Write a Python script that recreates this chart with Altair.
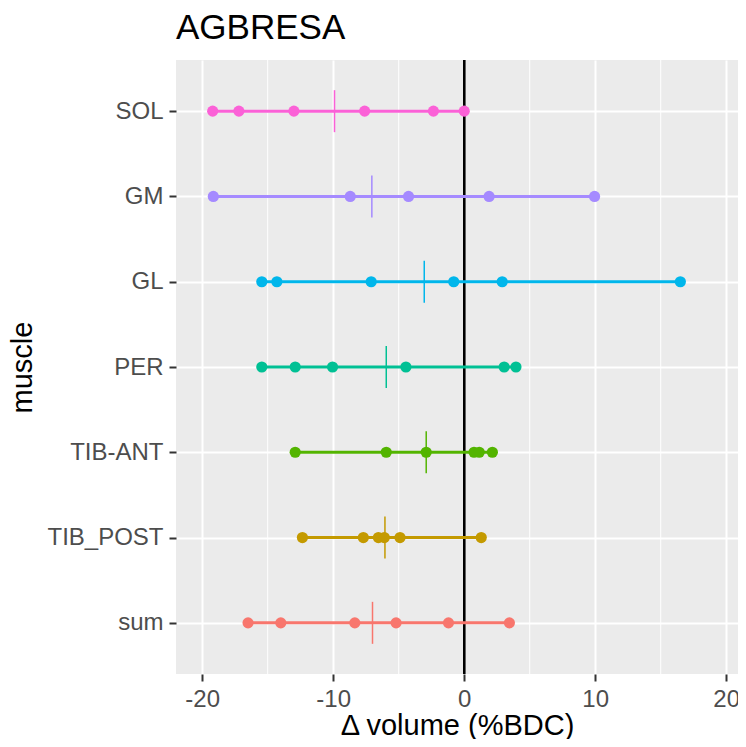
import altair as alt
import pandas as pd

# ---- data ----
muscles = ["SOL", "GM", "GL", "PER", "TIB-ANT", "TIB_POST", "sum"]
sol = [-19.2, -17.2, -13.0, -7.6, -2.35, 0.0]
gm = [-19.15, -8.7, -4.25, 1.9, 9.95]
gl = [-15.45, -14.3, -7.1, -0.8, 2.9, 16.5]
per = [-15.45, -12.9, -10.05, -4.45, 3.05, 3.95]
tib_ant = [-12.9, -5.95, -2.9, 0.75, 1.15, 2.15]
tib_post = [-12.35, -7.7, -6.55, -6.1, -4.9, 1.3]
total = [-16.5, -14.0, -8.35, -5.2, -1.2, 3.45]
means = [-9.9, -7.05, -3.05, -5.95, -2.9, -6.05, -7.0]
colors = ["#FB61D7", "#A58AFF", "#00B6EB", "#00C094", "#53B400", "#C49A00", "#F8766D"]
x_ticks = [-20, -10, 0, 10, 20]
x_minor = [-15, -5, 5, 15]

series = [sol, gm, gl, per, tib_ant, tib_post, total]
rows = []
for m, vals in zip(muscles, series):
    for v in vals:
        rows.append({"muscle": m, "value": v})
df = pd.DataFrame(rows)
df_mean = pd.DataFrame({"muscle": muscles, "mean": means})
df_minor = pd.DataFrame({"x": x_minor})

FONT = "Liberation Sans"
xscale = alt.Scale(domain=[-22, 20.9], nice=False, zero=False)
yscale = alt.Scale(type="point", padding=0.6, domain=muscles)
cscale = alt.Scale(domain=muscles, range=colors)

x_axis = alt.Axis(values=x_ticks, title="Δ volume (%BDC)", titleFontSize=29,
                  titleFont=FONT, titleColor="black", titleFontWeight="normal",
                  titleBaseline="alphabetic", titleY=60,
                  labelFontSize=24, labelFont=FONT, labelColor="#4D4D4D",
                  labelExpr="replace(datum.label, '\u2212', '-')",
                  labelPadding=6, tickSize=7, tickWidth=2, tickColor="#333333",
                  domain=False, grid=True, gridColor="white", gridWidth=2)
y_axis = alt.Axis(title="muscle", titleFontSize=29, titleFont=FONT,
                  titleColor="black", titleFontWeight="normal",
                  titleAngle=270, titleBaseline="alphabetic", titleAlign="center",
                  titleX=-145, titleY=307,
                  labelFontSize=24, labelFont=FONT, labelColor="#4D4D4D",
                  labelPadding=6, tickSize=7, tickWidth=2, tickColor="#333333",
                  domain=False, grid=True, gridColor="white", gridWidth=2)

minor = alt.Chart(df_minor).mark_rule(color="white", strokeWidth=1).encode(
    x=alt.X("x:Q", scale=xscale, axis=x_axis)
)

zero = alt.Chart(df_minor).mark_rule(color="black", strokeWidth=2).encode(
    x=alt.datum(0)
)

ranges = alt.Chart(df).mark_rule(strokeWidth=3).encode(
    x=alt.X("min(value):Q", scale=xscale, axis=x_axis),
    x2="max(value):Q",
    y=alt.Y("muscle:N", scale=yscale, sort=muscles, axis=y_axis),
    color=alt.Color("muscle:N", scale=cscale, legend=None),
)

points = alt.Chart(df).mark_circle(size=125, opacity=1).encode(
    x=alt.X("value:Q", scale=xscale, axis=x_axis),
    y=alt.Y("muscle:N", scale=yscale, sort=muscles, axis=y_axis),
    color=alt.Color("muscle:N", scale=cscale, legend=None),
)

ticks = alt.Chart(df_mean).mark_tick(size=42, thickness=1.5, opacity=1).encode(
    x=alt.X("mean:Q", scale=xscale, axis=x_axis),
    y=alt.Y("muscle:N", scale=yscale, sort=muscles, axis=y_axis),
    color=alt.Color("muscle:N", scale=cscale, legend=None),
)

chart = alt.layer(minor, zero, ranges, points, ticks).properties(
    width=562,
    height=614,
    autosize="none",
    padding={"left": 168, "top": 52, "right": 0, "bottom": 65},
    background="white",
    title=alt.TitleParams("AGBRESA", anchor="start", frame="group", fontSize=35,
                          font=FONT, color="black", fontWeight="normal",
                          offset=13),
).configure_view(
    fill="#EBEBEB", strokeWidth=0
)

chart.save("out.html", embed_options={"renderer": "svg", "actions": False})
